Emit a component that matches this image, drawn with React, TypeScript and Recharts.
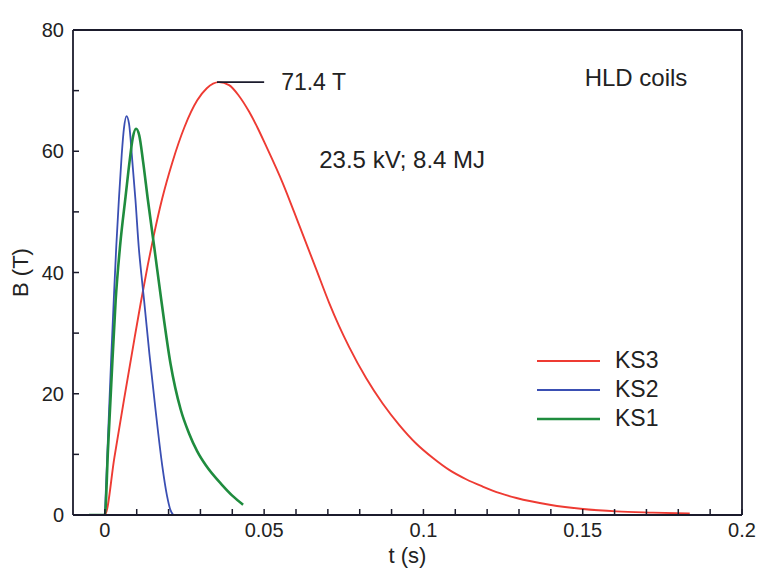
import React from 'react';
import { LineChart, Line, XAxis, YAxis, ReferenceLine, ReferenceDot, Legend } from 'recharts';

// ---- data (t in s, B in T) ----
const ks3T = [-0.01, 0, 0.003, 0.006, 0.009, 0.0112, 0.0135, 0.0154, 0.018, 0.0212, 0.025, 0.029, 0.032, 0.0358, 0.039, 0.042, 0.0453, 0.048, 0.0505, 0.0558, 0.061, 0.0663, 0.0704, 0.0735, 0.0767, 0.082, 0.0872, 0.0925, 0.0977, 0.103, 0.1082, 0.1134, 0.1186, 0.124, 0.1292, 0.1396, 0.1501, 0.1606, 0.172, 0.1836];
const ks3B = [0, 0, 9.5, 19, 28.2, 34.8, 41.3, 46.2, 52.2, 58.2, 64.0, 68.4, 70.4, 71.4, 70.9, 69.2, 66.5, 63.8, 61.0, 54.8, 47.8, 40.6, 35.0, 31.2, 27.7, 22.6, 18.4, 14.8, 11.8, 9.4, 7.4, 5.9, 4.7, 3.6, 2.8, 1.7, 1.0, 0.6, 0.4, 0.25];

const ks2T = [0, 0.001, 0.002, 0.0028, 0.0036, 0.0044, 0.0053, 0.006, 0.0068, 0.0076, 0.0086, 0.0096, 0.0107, 0.0115, 0.0123, 0.014, 0.0159, 0.018, 0.0195, 0.0206, 0.0215, 0.028, 0.034, 0.045];
const ks2B: (number | null)[] = [0, 13, 26, 35.5, 44.5, 52, 59.5, 63.8, 65.8, 64.5, 58.5, 52, 43.8, 39.5, 35.5, 26.5, 17.4, 8.2, 3.2, 0.8, 0, null, 0, 0];

const ks1T = [-0.005, 0, 0.001, 0.002, 0.0034, 0.0048, 0.0065, 0.0078, 0.0088, 0.0098, 0.0108, 0.012, 0.0135, 0.0156, 0.0177, 0.0206, 0.0238, 0.0264, 0.029, 0.0317, 0.0369, 0.04, 0.0434];
const ks1B = [0, 0, 11, 21.5, 35.5, 44.5, 52.5, 58.5, 62.3, 63.7, 62.6, 58.3, 52, 43.8, 35.5, 25.0, 17.4, 13.5, 10.5, 8.2, 4.9, 3.2, 1.7];

const xMajorTicks = [0, 0.05, 0.1, 0.15, 0.2];
const xMajorLabels = ['0', '0.05', '0.1', '0.15', '0.2'];
const xMinorTicks = [0.01, 0.02, 0.03, 0.04, 0.06, 0.07, 0.08, 0.09, 0.11, 0.12, 0.13, 0.14, 0.16, 0.17, 0.18, 0.19];
const yMajorTicks = [0, 20, 40, 60, 80];
const yMajorLabels = ['0', '20', '40', '60', '80'];
const yMinorTicks = [10, 30, 50, 70];

const seriesNames = ['KS3', 'KS2', 'KS1'];
const peakLabel = '71.4 T';
const peakValue = 71.4;
const noteText = '23.5 kV; 8.4 MJ';
const titleText = 'HLD coils';

const build = (ts: number[], bs: (number | null)[]) => ts.map((t, i) => ({ t, b: bs[i] }));
const ks3Data = build(ks3T, ks3B);
const ks2Data = build(ks2T, ks2B);
const ks1Data = build(ks1T, ks1B);

const xTicks = [...xMajorTicks, ...xMinorTicks].sort((a, b) => a - b);
const yTicks = [...yMajorTicks, ...yMinorTicks].sort((a, b) => a - b);

const FONT = '"Liberation Sans", Arial, Helvetica, sans-serif';
const AX = '#1b1b2c';
const TXT = '#222';
const RED = '#ee3b33';
const BLUE = '#3a4fb3';
const GREEN = '#1f8c3e';
const TICK = 6;

const findIdx = (arr: number[], v: number) => arr.findIndex((m) => Math.abs(m - v) < 1e-9);

const BottomTick = (props: any) => {
  const { x, y, payload } = props;
  const idx = findIdx(xMajorTicks, payload.value);
  if (idx < 0) return <g />;
  return (
    <text x={x} y={y + 22} textAnchor="middle" fontSize={20} fill={TXT} fontFamily={FONT}>
      {xMajorLabels[idx]}
    </text>
  );
};

const LeftTick = (props: any) => {
  const { x, y, payload } = props;
  const idx = findIdx(yMajorTicks, payload.value);
  if (idx < 0) return <g />;
  return (
    <text x={x - 9} y={y + 7} textAnchor="end" fontSize={20} fill={TXT} fontFamily={FONT}>
      {yMajorLabels[idx]}
    </text>
  );
};

const renderLegend = (props: any) => {
  const items = [...(props.payload || [])]
    .filter((p: any) => seriesNames.includes(p.value))
    .sort((a: any, b: any) => seriesNames.indexOf(a.value) - seriesNames.indexOf(b.value));
  return (
    <div style={{ fontFamily: FONT }}>
      {items.map((p: any) => (
        <div key={p.value} style={{ display: 'flex', alignItems: 'center', height: 29 }}>
          <svg width={63} height={6} style={{ display: 'block' }}>
            <line x1={0} x2={63} y1={3} y2={3} stroke={p.color} strokeWidth={p.value === 'KS1' ? 2.6 : 2} />
          </svg>
          <span style={{ marginLeft: 15, fontSize: 23, color: TXT, lineHeight: '29px' }}>{p.value}</span>
        </div>
      ))}
    </div>
  );
};

const tickLineStyle = { stroke: AX, strokeWidth: 1.5 };
const axisLineStyle = { stroke: AX, strokeWidth: 1.8 };

export default function App() {
  return (
    <div style={{ position: 'absolute', left: 0, top: 0, width: 761, height: 569, background: '#fff' }}>
      <LineChart width={761} height={569} margin={{ top: 29, right: 18, bottom: 0, left: 0 }}>
        <XAxis
          dataKey="t"
          type="number"
          domain={[-0.01, 0.2]}
          ticks={xTicks}
          interval={0}
          height={54}
          tickSize={-TICK}
          tickMargin={TICK}
          tickLine={tickLineStyle}
          tick={<BottomTick />}
          axisLine={axisLineStyle}
          allowDataOverflow
          label={{ value: 't (s)', position: 'insideBottom', offset: 6, fontSize: 22, fill: TXT, fontFamily: FONT }}
        />
        <XAxis
          xAxisId="top"
          orientation="top"
          dataKey="t"
          type="number"
          domain={[-0.01, 0.2]}
          ticks={xTicks}
          interval={0}
          height={1}
          tickSize={-TICK}
          tickMargin={TICK}
          tickLine={tickLineStyle}
          tick={false}
          axisLine={axisLineStyle}
          allowDataOverflow
        />
        <YAxis
          type="number"
          domain={[0, 80]}
          ticks={yTicks}
          interval={0}
          width={73}
          tickSize={-TICK}
          tickMargin={TICK}
          tickLine={tickLineStyle}
          tick={<LeftTick />}
          axisLine={axisLineStyle}
          allowDataOverflow
          label={{ value: 'B (T)', angle: -90, position: 'insideLeft', offset: 20, fontSize: 22, fill: TXT, fontFamily: FONT, style: { textAnchor: 'middle' } }}
        />
        <YAxis
          yAxisId="right"
          orientation="right"
          type="number"
          domain={[0, 80]}
          ticks={yTicks}
          interval={0}
          width={1}
          tickSize={-TICK}
          tickMargin={TICK}
          tickLine={tickLineStyle}
          tick={false}
          axisLine={axisLineStyle}
          allowDataOverflow
        />
        <Line xAxisId="top" yAxisId="right" data={ks3Data} dataKey="b" stroke="none" strokeWidth={0} dot={false} legendType="none" isAnimationActive={false} />
        <Line data={ks3Data} dataKey="b" name={seriesNames[0]} type="monotone" stroke={RED} strokeWidth={1.9} dot={false} isAnimationActive={false} />
        <Line data={ks2Data} dataKey="b" name={seriesNames[1]} type="monotone" stroke={BLUE} strokeWidth={1.8} dot={false} isAnimationActive={false} />
        <Line data={ks1Data} dataKey="b" name={seriesNames[2]} type="monotone" stroke={GREEN} strokeWidth={2.6} dot={false} isAnimationActive={false} />
        <ReferenceLine
          segment={[{ x: 0.0352, y: peakValue }, { x: 0.05, y: peakValue }]}
          stroke={AX}
          strokeWidth={1.6}
          label={{ value: peakLabel, position: 'right', offset: 17, fontSize: 23, fill: TXT, fontFamily: FONT }}
        />
        <ReferenceDot
          x={0.0673}
          y={58.7}
          r={0}
          fill="none"
          stroke="none"
          label={{ value: noteText, position: 'right', offset: 0, fontSize: 24, fill: TXT, fontFamily: FONT }}
        />
        <ReferenceDot
          x={0.1506}
          y={72.2}
          r={0}
          fill="none"
          stroke="none"
          label={{ value: titleText, position: 'right', offset: 0, fontSize: 24, fill: TXT, fontFamily: FONT }}
        />
        <Legend
          layout="vertical"
          align="center"
          verticalAlign="middle"
          content={renderLegend}
          wrapperStyle={{ left: 537, top: 346, width: 160, right: 'auto', bottom: 'auto' }}
        />
      </LineChart>
    </div>
  );
}
